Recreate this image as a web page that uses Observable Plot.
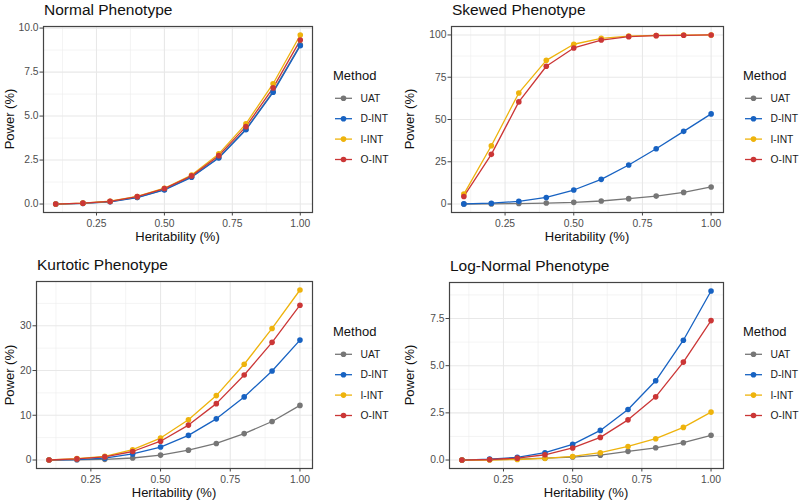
<!DOCTYPE html>
<html>
<head>
<meta charset="utf-8">
<script src="https://cdn.jsdelivr.net/npm/d3@7"></script>
<script src="https://cdn.jsdelivr.net/npm/@observablehq/plot@0.6"></script>
<style>
  html, body { margin: 0; padding: 0; background: #fff; }
  #root { position: relative; width: 800px; height: 501px; overflow: hidden; font-family: "Liberation Sans", Arial, sans-serif; }
  .quad { position: absolute; width: 400px; height: 250px; }
  .quad svg { position: absolute; left: 0; top: 0; }
  .title { position: absolute; font-size: 15.5px; color: #111; white-space: nowrap; line-height: 1; }
  .xlab { position: absolute; font-size: 13px; color: #111; white-space: nowrap; line-height: 1; transform: translateX(-50%); }
  .ylab { position: absolute; font-size: 13px; color: #111; white-space: nowrap; line-height: 1; transform: translate(-50%, -50%) rotate(-90deg); }
  .legend { position: absolute; }
</style>
</head>
<body>
<div id="root"></div>
<script>
// ---------- data ----------
const heritability = [0.1, 0.2, 0.3, 0.4, 0.5, 0.6, 0.7, 0.8, 0.9, 1.0];
const methods = ["UAT", "D-INT", "I-INT", "O-INT"];
const methodColors = ["#767676", "#1762C2", "#EEB30C", "#CB3636"];

// Normal phenotype
const normalUAT  = [0.00, 0.04, 0.14, 0.38, 0.82, 1.55, 2.65, 4.25, 6.40, 9.05];
const normalDINT = [0.00, 0.04, 0.13, 0.37, 0.80, 1.52, 2.62, 4.22, 6.35, 9.00];
const normalIINT = [0.00, 0.05, 0.16, 0.43, 0.90, 1.65, 2.85, 4.56, 6.84, 9.61];
const normalOINT = [0.00, 0.05, 0.15, 0.42, 0.88, 1.60, 2.75, 4.40, 6.60, 9.32];

// Skewed phenotype
const skewedUAT  = [0.0, 0.1, 0.3, 0.6, 1.0, 1.8, 3.2, 4.7, 6.9, 10.1];
const skewedDINT = [0.1, 0.5, 1.6, 3.9, 8.3, 14.6, 23.1, 32.7, 43.0, 53.3];
const skewedIINT = [5.9, 34.5, 65.7, 85.0, 94.5, 98.0, 99.3, 99.7, 99.9, 100.0];
const skewedOINT = [4.5, 29.4, 60.4, 81.5, 92.3, 97.0, 99.0, 99.6, 99.8, 100.0];

// Kurtotic phenotype
const kurtoticUAT  = [0.0, 0.05, 0.15, 0.45, 1.1, 2.2, 3.7, 5.9, 8.6, 12.2];
const kurtoticDINT = [0.0, 0.1, 0.4, 1.35, 2.9, 5.5, 9.2, 14.1, 19.9, 26.8];
const kurtoticIINT = [0.0, 0.3, 0.8, 2.3, 4.9, 9.0, 14.4, 21.4, 29.4, 38.0];
const kurtoticOINT = [0.0, 0.25, 0.7, 1.9, 4.2, 7.8, 12.6, 19.0, 26.3, 34.6];

// Log-normal phenotype
const lognormalUAT  = [0.00, 0.02, 0.05, 0.10, 0.16, 0.26, 0.46, 0.65, 0.92, 1.31];
const lognormalDINT = [0.00, 0.05, 0.14, 0.39, 0.83, 1.57, 2.68, 4.20, 6.35, 8.96];
const lognormalIINT = [0.00, 0.00, 0.03, 0.09, 0.19, 0.39, 0.72, 1.13, 1.73, 2.54];
const lognormalOINT = [0.00, 0.03, 0.10, 0.28, 0.64, 1.20, 2.13, 3.35, 5.19, 7.39];

// tick labels
const xTicks = [0.25, 0.50, 0.75, 1.00];
const xMinor = [0.125, 0.375, 0.625, 0.875];
const normalYTicks = [0, 2.5, 5, 7.5, 10];
const normalYMinor = [1.25, 3.75, 6.25, 8.75];
const skewedYTicks = [0, 25, 50, 75, 100];
const skewedYMinor = [12.5, 37.5, 62.5, 87.5];
const kurtoticYTicks = [0, 10, 20, 30];
const kurtoticYMinor = [5, 15, 25, 35];
const lognormalYTicks = [0, 2.5, 5, 7.5];
const lognormalYMinor = [1.25, 3.75, 6.25, 8.75];

const titles = ["Normal Phenotype", "Skewed Phenotype", "Kurtotic Phenotype", "Log-Normal Phenotype"];
const xTitle = "Heritability (%)";
const yTitle = "Power (%)";
const legendTitle = "Method";

// ---------- build ----------
function table(series) {
  const rows = [];
  series.forEach((vals, mi) => {
    vals.forEach((v, i) => rows.push({h: heritability[i], power: v, method: methods[mi]}));
  });
  return rows;
}

function expandDomain(vals) {
  const lo = d3.min(vals), hi = d3.max(vals), pad = (hi - lo) * 0.05;
  return [lo - pad, hi + pad];
}

const panels = [
  {left: 0, top: 0, series: [normalUAT, normalDINT, normalIINT, normalOINT], yTicks: normalYTicks, yMinor: normalYMinor, fmt: ".1f",
   m: {l: 43, r: 88, t: 26, b: 38}, legend: {x: 333, y: 75}},
  {left: 400, top: 0, series: [skewedUAT, skewedDINT, skewedIINT, skewedOINT], yTicks: skewedYTicks, yMinor: skewedYMinor, fmt: "d",
   m: {l: 51, r: 77, t: 26, b: 38}, legend: {x: 343, y: 75}},
  {left: 0, top: 250, series: [kurtoticUAT, kurtoticDINT, kurtoticIINT, kurtoticOINT], yTicks: kurtoticYTicks, yMinor: kurtoticYMinor, fmt: "d",
   m: {l: 36, r: 88, t: 31, b: 32}, legend: {x: 333, y: 81}},
  {left: 400, top: 250, series: [lognormalUAT, lognormalDINT, lognormalIINT, lognormalOINT], yTicks: lognormalYTicks, yMinor: lognormalYMinor, fmt: ".1f",
   m: {l: 49, r: 77, t: 32, b: 32}, legend: {x: 343.3, y: 81}}
];

const root = document.getElementById("root");
const W = 400, H = 250;

panels.forEach((p, idx) => {
  const quad = document.createElement("div");
  quad.className = "quad";
  quad.style.left = p.left + "px";
  quad.style.top = p.top + "px";
  root.appendChild(quad);

  const data = table(p.series);
  const yDom = expandDomain(p.series.flat());
  const xDom = expandDomain(heritability);

  const chart = Plot.plot({
    width: W, height: H,
    marginLeft: p.m.l, marginRight: p.m.r, marginTop: p.m.t, marginBottom: p.m.b,
    style: {fontFamily: "Liberation Sans, Arial, sans-serif", background: "transparent"},
    x: {domain: xDom, label: null},
    y: {domain: yDom, label: null},
    color: {domain: methods, range: methodColors},
    marks: [
      Plot.gridX(xMinor, {stroke: "#EDEDED", strokeOpacity: 1, strokeWidth: 0.6}),
      Plot.gridY(p.yMinor, {stroke: "#EDEDED", strokeOpacity: 1, strokeWidth: 0.6}),
      Plot.gridX(xTicks, {stroke: "#E8E8E8", strokeOpacity: 1, strokeWidth: 1.1}),
      Plot.gridY(p.yTicks, {stroke: "#E8E8E8", strokeOpacity: 1, strokeWidth: 1.1}),
      Plot.line(data, {x: "h", y: "power", z: "method", stroke: "method", strokeWidth: 1.3}),
      Plot.dot(data, {x: "h", y: "power", fill: "method", r: 2.8}),
      Plot.frame({stroke: "#444444", strokeWidth: 1.2}),
      Plot.axisX(xTicks, {tickFormat: d3.format(".2f"), tickSize: 3.5, tickPadding: 3.2, fontSize: 10.3, fill: "#4D4D4D", stroke: "#444444", label: null}),
      Plot.axisY(p.yTicks, {tickFormat: d3.format(p.fmt), tickSize: 3.5, tickPadding: 1.5, fontSize: 10.3, fill: "#4D4D4D", stroke: "#444444", label: null})
    ]
  });
  quad.appendChild(chart);

  const plotL = p.m.l, plotR = W - p.m.r, plotT = p.m.t, plotB = H - p.m.b;

  const t = document.createElement("div");
  t.className = "title";
  t.textContent = titles[idx];
  t.style.left = (plotL + 1) + "px";
  t.style.top = (plotT - 24) + "px";
  quad.appendChild(t);

  const xl = document.createElement("div");
  xl.className = "xlab";
  xl.textContent = xTitle;
  xl.style.left = ((plotL + plotR) / 2) + "px";
  xl.style.top = (plotB + 18) + "px";
  quad.appendChild(xl);

  const yl = document.createElement("div");
  yl.className = "ylab";
  yl.textContent = yTitle;
  yl.style.left = "8.5px";
  yl.style.top = ((plotT + plotB) / 2) + "px";
  quad.appendChild(yl);

  // legend
  const lg = d3.select(quad).append("svg")
    .attr("class", "legend")
    .attr("width", 70).attr("height", 110)
    .style("left", p.legend.x + "px").style("top", (p.legend.y - 10) + "px")
    .style("font-family", "Liberation Sans, Arial, sans-serif");
  lg.append("text").attr("x", 0).attr("y", 14.5).attr("font-size", 13).attr("fill", "#111").text(legendTitle);
  methods.forEach((mth, i) => {
    const cy = 33.3 + i * 20.4;
    const g = lg.append("g");
    g.append("line").attr("x1", 2).attr("x2", 19).attr("y1", cy).attr("y2", cy)
      .attr("stroke", methodColors[i]).attr("stroke-width", 1.3);
    g.append("circle").attr("cx", 10.5).attr("cy", cy).attr("r", 2.8).attr("fill", methodColors[i]);
    g.append("text").attr("x", 27.5).attr("y", cy + 3.7).attr("font-size", 10.3).attr("fill", "#1A1A1A").text(mth);
  });
});
</script>
</body>
</html>
